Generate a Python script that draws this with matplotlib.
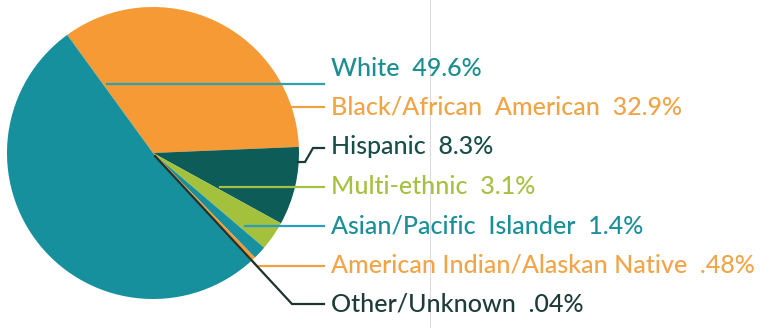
import matplotlib.pyplot as plt

# data
groups = ["Black/African  American", "Hispanic", "Multi-ethnic",
          "Asian/Pacific  Islander", "American Indian/Alaskan Native",
          "Other/Unknown", "White"]
shares = [32.9, 8.3, 3.1, 1.4, 0.48, 0.04, 49.6]
share_labels = ["32.9%", "8.3%", "3.1%", "1.4%", ".48%", ".04%", "49.6%"]

# styles
slice_colors = ["#f59a35", "#0d5c58", "#a3c13c", "#17909f", "#f59a35", "#1d3d3a", "#15909c"]
text_colors = ["#f0a445", "#184e49", "#a6c043", "#1a8f9a", "#f2a448", "#1e3c3a", "#1a8e90"]
line_colors = ["#f0a040", "#1c3a38", "#a6c043", "#2a9cc0", "#f0a040", "#1d3331", "#2aa2b2"]

W, H = 775, 328
cx, cy, r = 153, 153, 146


def P(x, y):
    # pixel coords (top-left origin) -> axes data coords
    return x, H - y


fig = plt.figure(figsize=(W / 100, H / 100), dpi=100)
ax = fig.add_axes([0, 0, 1, 1])

ax.pie(shares, colors=slice_colors, startangle=126, counterclock=False,
       center=P(cx, cy), radius=r, wedgeprops=dict(linewidth=0))

# faint fold line from the scanned page
ax.plot([430, 430], [0, H], color="#dcdcdc", lw=0.8, zorder=0)

# leader lines (pixel layout), one per label; drawn in legend order
label_order = [6, 0, 1, 2, 3, 4, 5]
leader_paths = [
    [(107, 84), (324, 84)],
    [(292, 107), (324, 107)],
    [(298, 162), (305, 162), (313, 148), (324, 148)],
    [(220, 187), (324, 187)],
    [(245, 226), (324, 226)],
    [(155, 155), (257, 266), (324, 266)],
    [(155, 156), (292, 304), (324, 304)],
]
label_y = [68, 107, 147, 187, 226, 265, 304]

for i, path, ty in zip(label_order, leader_paths, label_y):
    xs, ys = zip(*[P(x, y) for x, y in path])
    ax.plot(xs, ys, color=line_colors[i], lw=1.6, solid_joinstyle="miter")
    ax.text(*P(331, ty), f"{groups[i]}  {share_labels[i]}", color=text_colors[i],
            fontsize=18, family="Lato", fontweight="medium", va="center", ha="left")

ax.set_xlim(0, W)
ax.set_ylim(0, H)
ax.set_aspect("equal")
ax.axis("off")

fig.savefig("out.png", dpi=100)
